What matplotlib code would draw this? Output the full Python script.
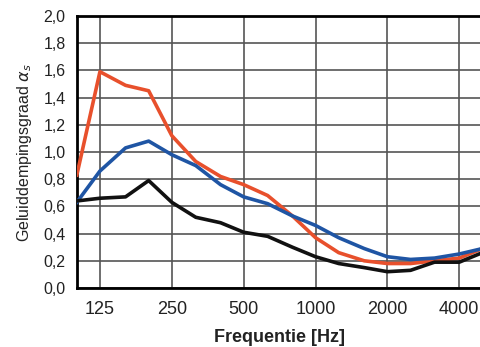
import numpy as np
import matplotlib.pyplot as plt
from matplotlib.ticker import FixedLocator, FixedFormatter, NullLocator

plt.rcParams['font.family'] = ['Liberation Sans', 'DejaVu Sans']

# third-octave bands
freqs = [100, 125, 160, 200, 250, 315, 400, 500, 630, 800, 1000,
         1250, 1600, 2000, 2500, 3150, 4000, 5000]
red = [0.83, 1.59, 1.49, 1.45, 1.12, 0.93, 0.82, 0.76, 0.68, 0.53, 0.37,
       0.26, 0.20, 0.18, 0.18, 0.20, 0.22, 0.29]
blue = [0.63, 0.86, 1.03, 1.08, 0.98, 0.90, 0.76, 0.67, 0.62, 0.53, 0.46,
        0.37, 0.29, 0.23, 0.21, 0.22, 0.25, 0.29]
black = [0.64, 0.66, 0.67, 0.79, 0.63, 0.52, 0.48, 0.41, 0.38, 0.30, 0.23,
         0.18, 0.15, 0.12, 0.13, 0.19, 0.19, 0.26]

xticks = [125, 250, 500, 1000, 2000, 4000]
yticks = np.round(np.arange(0, 2.01, 0.2), 1)

fig = plt.figure(figsize=(4.8, 3.47), dpi=100)
ax = fig.add_axes([0.160, 0.170, 0.845, 0.784])

ax.plot(freqs, red, color='#e8502c', lw=2.6, zorder=3)
ax.plot(freqs, blue, color='#1f55a4', lw=2.6, zorder=3)
ax.plot(freqs, black, color='#111111', lw=2.6, zorder=3)

ax.set_xscale('log')
ax.set_xlim(100, 5000)
ax.set_ylim(0, 2.0)
ax.xaxis.set_major_locator(FixedLocator(xticks))
ax.xaxis.set_major_formatter(FixedFormatter([str(t) for t in xticks]))
ax.xaxis.set_minor_locator(NullLocator())
ax.set_yticks(yticks)
ax.set_yticklabels([f"{v:.1f}".replace('.', ',') for v in yticks])

ax.grid(True, color='#555555', lw=1.2, zorder=1)
ax.tick_params(length=0, colors='#222222')
ax.tick_params(axis='y', labelsize=11.5, pad=8)
ax.tick_params(axis='x', labelsize=13, pad=9)
for s in ['left', 'bottom', 'top']:
    ax.spines[s].set_linewidth(2)
ax.spines['right'].set_visible(False)

ax.set_xlabel('Frequentie [Hz]', fontsize=13, fontweight='bold', labelpad=8,
              color='#222222')
ax.set_ylabel(r'Geluiddempingsgraad $\alpha_s$', fontsize=11.5, labelpad=7,
              color='#222222')

fig.savefig('out.png', dpi=100)
